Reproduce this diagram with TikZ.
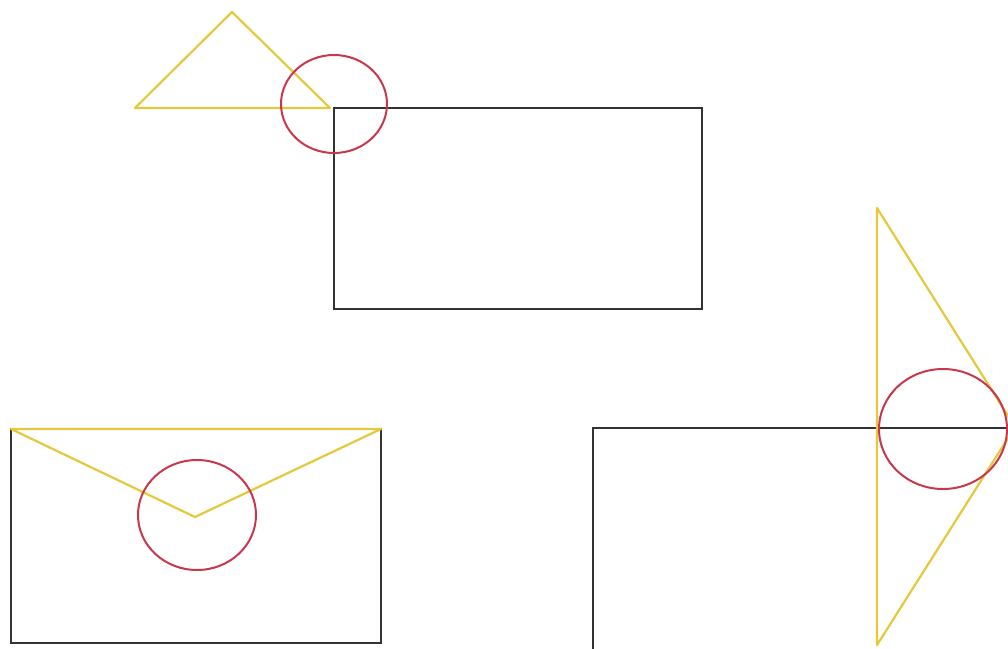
\documentclass[tikz,border=0pt]{standalone}
\definecolor{yel}{HTML}{E6C83C}
\definecolor{rd}{HTML}{C8384C}
\definecolor{blk}{HTML}{333333}
\begin{document}
\begin{tikzpicture}[x=1pt,y=-1pt,
  box/.style={draw=blk,line width=2.2pt},
  tri/.style={draw=yel,line width=2.2pt,line join=round},
  ring/.style={draw=rd,line width=2pt}]
\useasboundingbox (0,0) rectangle (1008,648);
\clip (0,0) rectangle (1008,648);
% top group
\draw[box] (334,108) rectangle (702,309);
\draw[tri] (232,12) -- (135,108) -- (330,108) -- cycle;
\draw[ring] (334,104) ellipse [x radius=53, y radius=49];
% bottom-left group
\draw[box] (11,429) rectangle (381,643);
\draw[tri] (11,429) -- (195,517) -- (381,429) -- cycle;
\draw[ring] (197,515) ellipse [x radius=59, y radius=55];
% bottom-right group
\draw[box] (593,428) rectangle (1040,660);
\draw[tri] (877,208) -- (1015,427) -- (877,645) -- cycle;
\draw[ring] (943,429) ellipse [x radius=64, y radius=60];
\end{tikzpicture}
\end{document}
